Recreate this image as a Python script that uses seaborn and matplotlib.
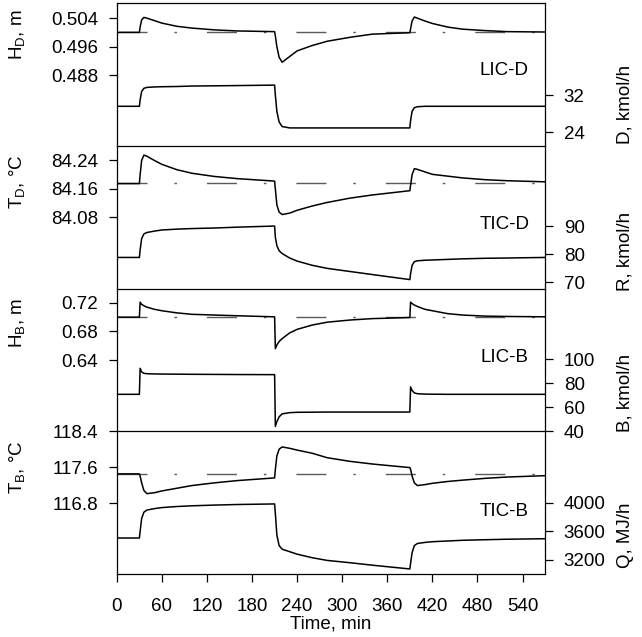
import matplotlib
matplotlib.use("Agg")
import matplotlib.pyplot as plt
import seaborn as sns

# time grid (min) shared by all series
time = [0, 30, 31, 33, 36, 40, 50, 60, 80, 100, 130, 160, 210,
        211, 213, 216, 220, 230, 240, 260, 280, 310, 340, 390,
        391, 393, 396, 400, 410, 420, 440, 460, 490, 520, 570]

# LIC-D
h_d = [0.5000, 0.5000, 0.5015, 0.5035, 0.5042, 0.5040, 0.5033, 0.5026, 0.5017, 0.5012, 0.5007, 0.5004, 0.5002,
       0.4990, 0.4960, 0.4930, 0.4916, 0.4932, 0.4948, 0.4963, 0.4975, 0.4986, 0.4995, 0.4999,
       0.5010, 0.5032, 0.5043, 0.5040, 0.5032, 0.5025, 0.5015, 0.5009, 0.5005, 0.5002, 0.5001]
d_flow = [29.6, 29.6, 31.0, 32.8, 33.5, 33.7, 33.8, 33.85, 33.9, 34.0, 34.05, 34.1, 34.2,
          32.0, 28.5, 26.2, 25.2, 24.9, 24.9, 24.9, 24.9, 24.9, 24.9, 24.9,
          26.5, 28.5, 29.3, 29.5, 29.6, 29.6, 29.6, 29.6, 29.6, 29.6, 29.6]
h_d_sp = 0.500

# TIC-D
t_d = [84.175, 84.175, 84.20, 84.24, 84.255, 84.252, 84.240, 84.229, 84.214, 84.204, 84.195, 84.189, 84.182,
       84.16, 84.115, 84.095, 84.088, 84.092, 84.100, 84.112, 84.122, 84.134, 84.143, 84.155,
       84.17, 84.20, 84.217, 84.215, 84.208, 84.201, 84.196, 84.191, 84.186, 84.183, 84.180]
r_flow = [78.8, 78.8, 81.5, 85.5, 87.2, 87.7, 88.2, 88.6, 88.9, 89.1, 89.3, 89.6, 90.0,
          86.0, 83.0, 81.2, 80.2, 78.6, 77.5, 76.0, 74.9, 73.8, 72.7, 70.9,
          73.0, 76.0, 77.3, 77.6, 77.8, 77.9, 78.1, 78.3, 78.5, 78.6, 78.8]
t_d_sp = 84.176

# LIC-B
h_b = [0.700, 0.700, 0.721, 0.718, 0.716, 0.714, 0.711, 0.709, 0.706, 0.704, 0.703, 0.702, 0.7005,
       0.656, 0.661, 0.666, 0.670, 0.678, 0.683, 0.689, 0.693, 0.696, 0.698, 0.6995,
       0.721, 0.719, 0.717, 0.715, 0.711, 0.709, 0.705, 0.703, 0.7015, 0.701, 0.7005]
b_flow = [70.8, 70.8, 92.5, 89.5, 88.3, 88.0, 87.8, 87.7, 87.6, 87.5, 87.4, 87.3, 87.2,
          44.0, 48.0, 52.0, 54.5, 55.5, 55.8, 55.9, 56.0, 56.0, 56.0, 56.0,
          77.0, 74.0, 72.0, 71.3, 71.0, 70.9, 70.8, 70.8, 70.8, 70.8, 70.8]
h_b_sp = 0.700

# TIC-B
t_b = [117.45, 117.45, 117.40, 117.25, 117.08, 117.01, 117.03, 117.07, 117.13, 117.19, 117.25, 117.30, 117.36,
       117.55, 117.85, 118.00, 118.05, 118.02, 117.98, 117.91, 117.81, 117.73, 117.67, 117.59,
       117.55, 117.40, 117.25, 117.19, 117.21, 117.24, 117.28, 117.31, 117.35, 117.38, 117.41]
q_duty = [3507, 3507, 3600, 3780, 3870, 3900, 3920, 3935, 3950, 3960, 3970, 3978, 3986,
          3850, 3550, 3400, 3350, 3315, 3280, 3230, 3192, 3160, 3125, 3072,
          3150, 3300, 3400, 3430, 3445, 3455, 3465, 3475, 3483, 3490, 3497]
t_b_sp = 117.45

x_ticks = [0, 60, 120, 180, 240, 300, 360, 420, 480, 540]

sns.set_style("ticks")
plt.rcParams['font.family'] = ['Liberation Sans', 'DejaVu Sans']
plt.rcParams['mathtext.fontset'] = 'custom'
plt.rcParams['mathtext.rm'] = 'Liberation Sans'
plt.rcParams['font.size'] = 13.5
for key in ['text.color', 'axes.labelcolor', 'xtick.color', 'ytick.color']:
    plt.rcParams[key] = 'black'

fig, axes = plt.subplots(4, 1, figsize=(6.42, 6.37), dpi=100, sharex=True)
plt.subplots_adjust(left=0.182, right=0.849, top=0.995, bottom=0.099, hspace=0)

panels = [
    (h_d, d_flow, h_d_sp, "H$_\\mathrm{D}$, m", "D, kmol/h", "LIC-D",
     (0.4681, 0.5082), [0.488, 0.496, 0.504], "%.3f", (21, 52), [24, 32],
     0.776, 0.287, 0.53),
    (t_d, r_flow, t_d_sp, "T$_\\mathrm{D}$, °C", "R, kmol/h", "TIC-D",
     (83.88, 84.281), [84.08, 84.16, 84.24], "%.2f", (67.7, 118.6), [70, 80, 90],
     0.748, 0.26, 0.448),
    (h_b, b_flow, h_b_sp, "H$_\\mathrm{B}$, m", "B, kmol/h", "LIC-B",
     (0.5406, 0.740), [0.64, 0.68, 0.72], "%.2f", (40, 159), [40, 60, 80, 100],
     0.755, 0.27, 0.517),
    (t_b, q_duty, t_b_sp, "T$_\\mathrm{B}$, °C", "Q, MJ/h", "TIC-B",
     (115.22, 118.4), [116.8, 117.6, 118.4], "%.1f", (3002, 5008), [3200, 3600, 4000],
     0.746, 0.27, 0.437),
]

for i, (ax, p) in enumerate(zip(axes, panels)):
    (left_y, right_y, sp, llab, rlab, tag, lylim, lticks, fmt,
     rylim, rticks, lly, rly, tagy) = p
    axr = ax.twinx()
    ax.patch.set_visible(False)
    axr.patch.set_visible(False)

    ax.axhline(sp, color='#5a5a5a', lw=1.0, dashes=(21.6, 19.4, 1.8, 21.6), zorder=1)
    sns.lineplot(x=time, y=left_y, ax=ax, color='black', lw=1.1, zorder=3)
    sns.lineplot(x=time, y=right_y, ax=axr, color='black', lw=1.1, zorder=3)

    ax.set_xlim(0, 570)
    ax.set_ylim(*lylim)
    ax.set_yticks(lticks)
    ax.yaxis.set_major_formatter(matplotlib.ticker.FormatStrFormatter(fmt))
    axr.set_ylim(*rylim)
    axr.set_yticks(rticks)

    ax.set_ylabel(llab)
    ax.yaxis.set_label_coords(-0.207, lly)
    axr.set_ylabel(rlab)
    axr.yaxis.set_label_coords(1.168, rly)

    ax.text(0.905, tagy, tag, transform=ax.transAxes, ha='center', va='center')

    for s in list(ax.spines.values()) + list(axr.spines.values()):
        s.set_linewidth(0.9)
        s.set_color('black')
    ax.spines['right'].set_visible(False)
    axr.spines['left'].set_visible(False)
    axr.spines['top'].set_visible(False)
    axr.spines['bottom'].set_visible(False)
    if i > 0:
        ax.spines['top'].set_visible(False)

    ax.tick_params(axis='y', direction='out', length=5.5, width=0.9, pad=8, labelsize=13.5)
    axr.tick_params(axis='y', direction='out', length=5.5, width=0.9, pad=8, labelsize=13.5)
    if i < 3:
        ax.tick_params(axis='x', bottom=False, labelbottom=False)
    else:
        ax.set_xticks(x_ticks)
        ax.tick_params(axis='x', direction='out', length=5.5, width=0.9, pad=12, labelsize=13.5)
        ax.set_xlabel("Time, min", labelpad=0)

fig.savefig("out.png", dpi=100)
